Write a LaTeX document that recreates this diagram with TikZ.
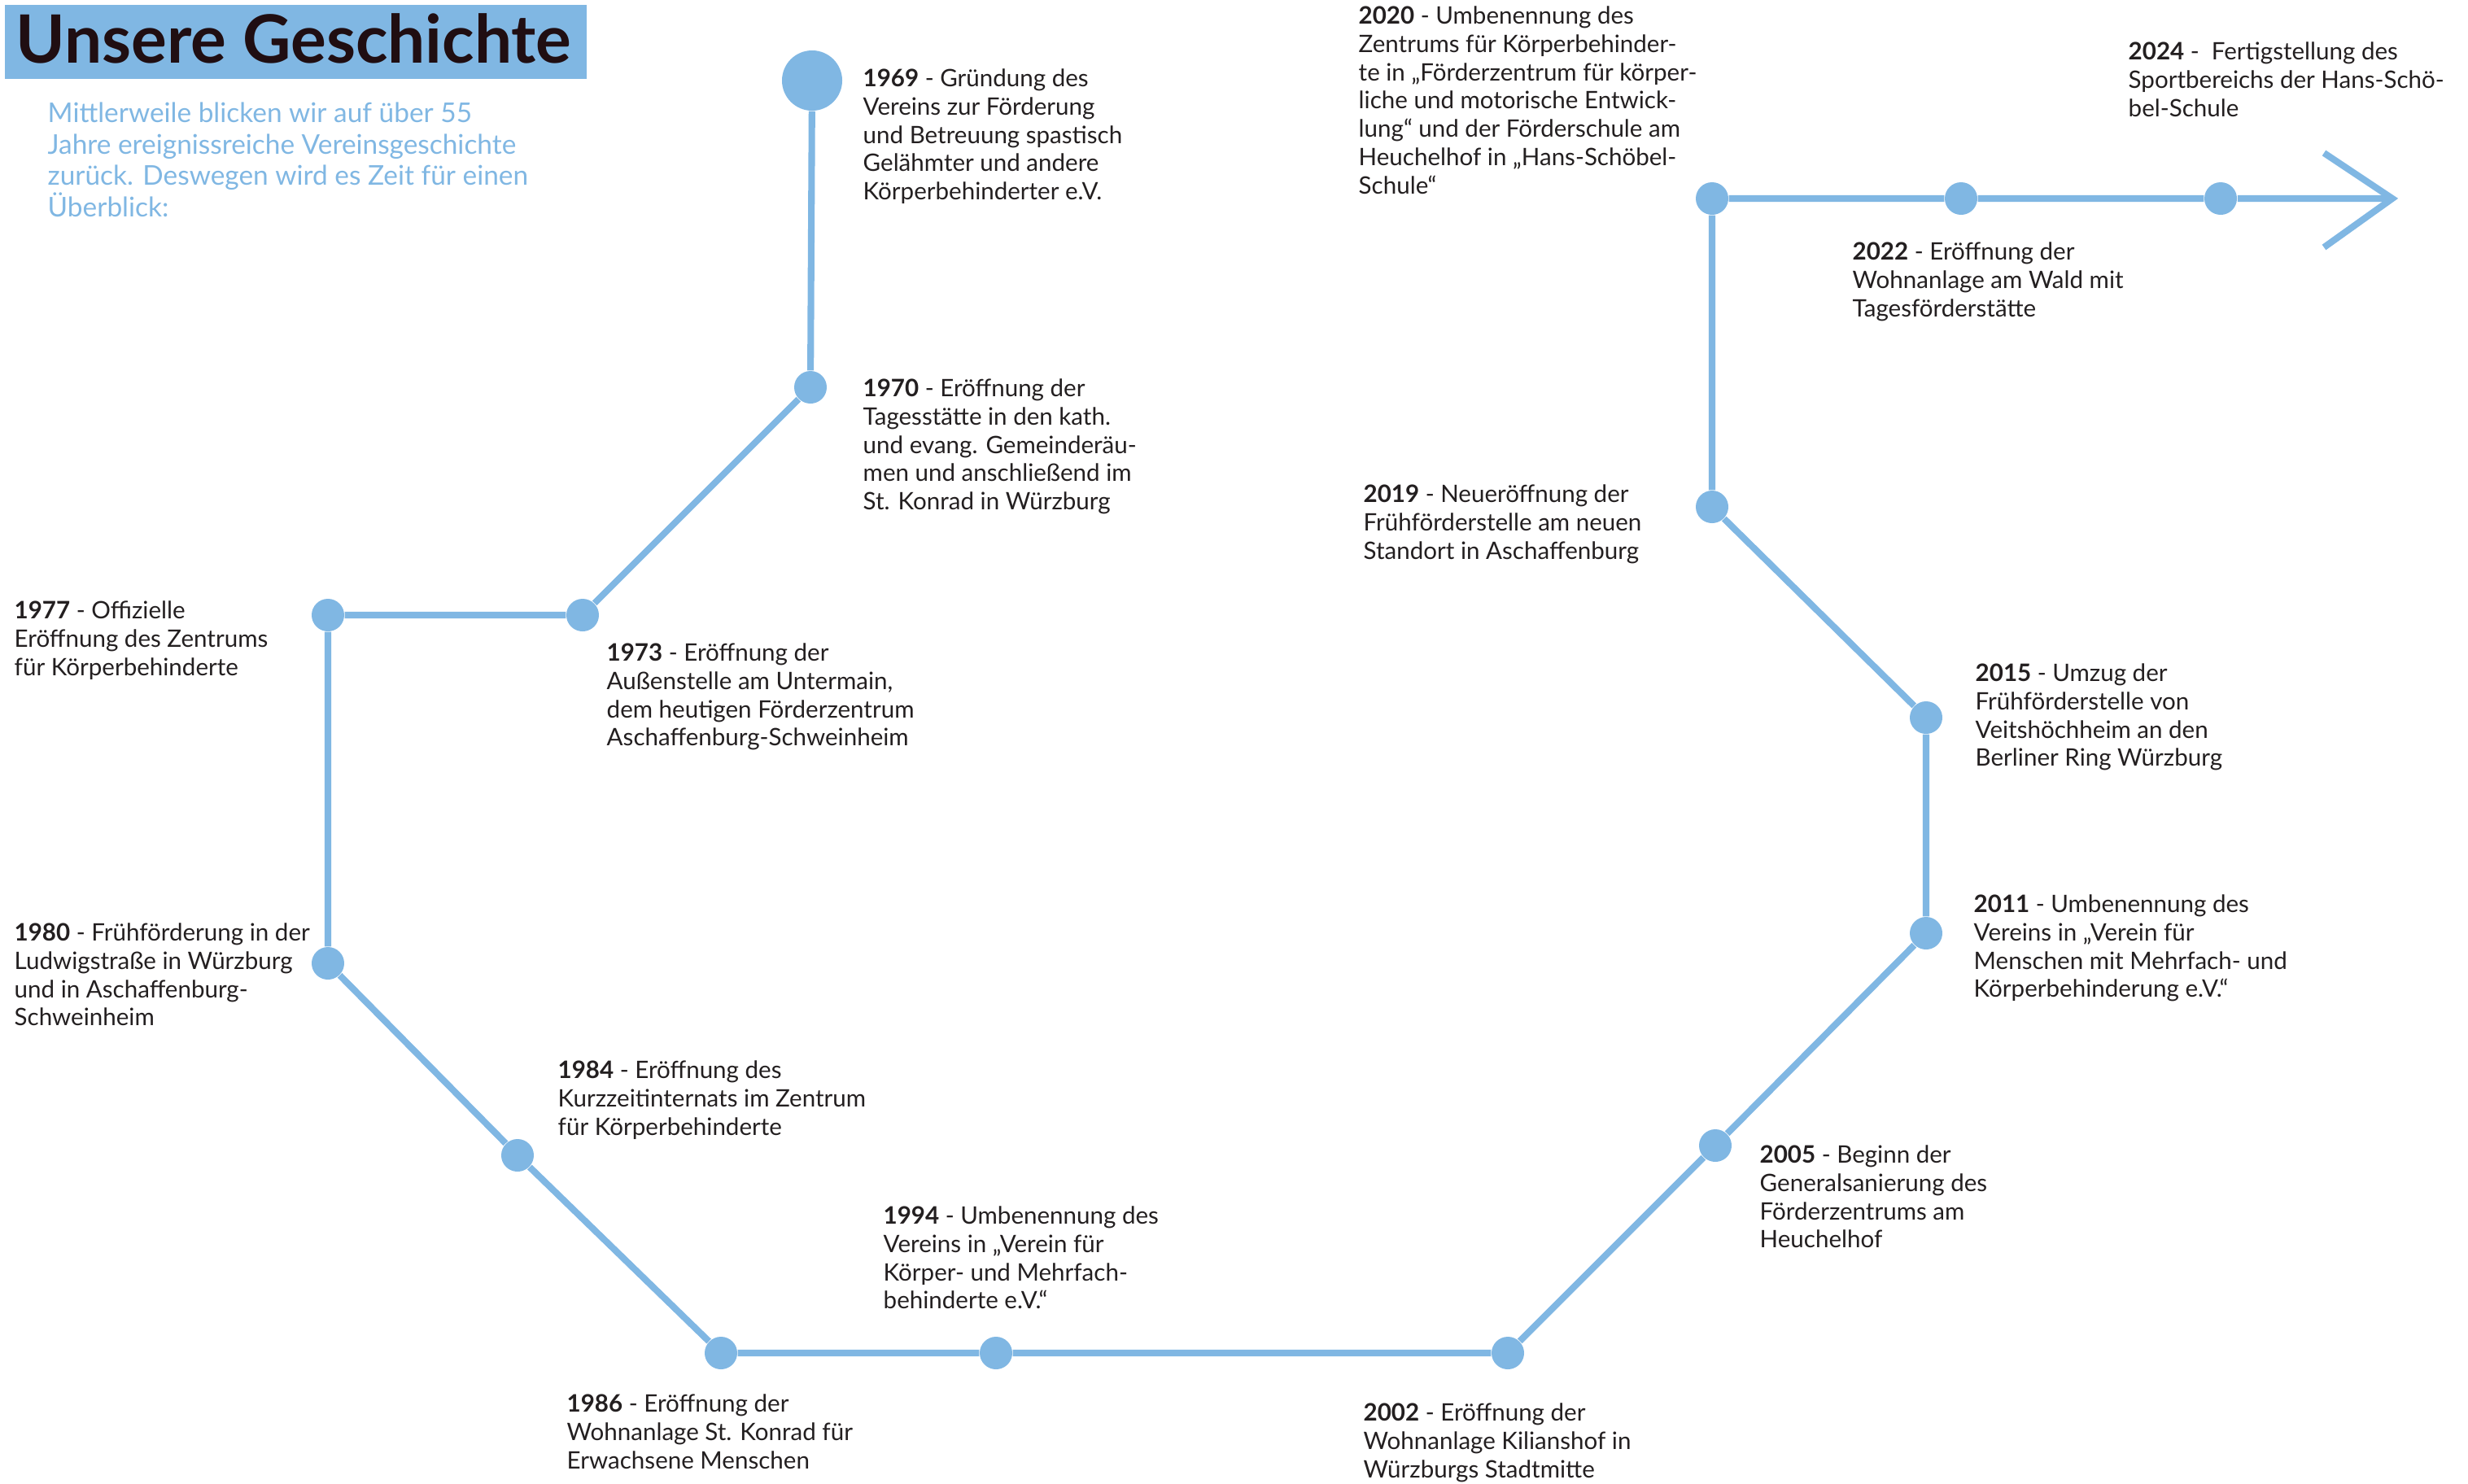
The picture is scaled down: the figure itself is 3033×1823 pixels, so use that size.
\documentclass[tikz,border=0pt]{standalone}
\usepackage{fontspec}
\setmainfont{Lato}
\usepackage{xcolor}
\definecolor{lineblue}{RGB}{128,183,227}
\definecolor{textdark}{RGB}{35,31,32}
\definecolor{titledark}{RGB}{32,14,18}
\tikzset{
  tl/.style={lineblue, line width=2.3pt},
  dot/.style={circle, fill=lineblue, inner sep=0pt, minimum size=0.4cm},
  bigdot/.style={dot, minimum size=0.74cm},
  entry/.style={anchor=north west, inner sep=0pt, align=left, text=textdark,
    font=\fontsize{8.4}{9.9}\selectfont},
}
\newcommand{\yr}[1]{\textbf{#1}}

\begin{document}
\begin{tikzpicture}[x=0.01cm, y=-0.01cm]

  \useasboundingbox (0,0) rectangle (3033,1823);

  % Title
  \fill[lineblue] (6,6) rectangle (721,97);
  \node[anchor=base west, inner sep=0pt, text=titledark,
    font=\fontsize{23.3}{27}\selectfont\bfseries] (title) at (19,77) {Unsere Geschichte};
  \node[anchor=north west, inner sep=0pt, align=left, text=lineblue,
    font=\fontsize{9.5}{11}\selectfont] (intro) at (58,125)
    {Mittlerweile blicken wir auf über 55\\Jahre ereignissreiche Vereinsgeschichte\\zurück. Deswegen wird es Zeit für einen\\Überblick:};

  % Dots
  \node[bigdot] (d1969) at (998,99) {};
  \node[dot] (d1970) at (996,476) {};
  \node[dot] (d1973) at (716,756) {};
  \node[dot] (d1977) at (403,756) {};
  \node[dot] (d1980) at (403,1184) {};
  \node[dot] (d1984) at (636,1420) {};
  \node[dot] (d1986) at (886,1663) {};
  \node[dot] (d1994) at (1224,1663) {};
  \node[dot] (d2002) at (1853,1663) {};
  \node[dot] (d2005) at (2108,1408) {};
  \node[dot] (d2011) at (2367,1147) {};
  \node[dot] (d2015) at (2367,882) {};
  \node[dot] (d2019) at (2104,623) {};
  \node[dot] (d2020) at (2104,244) {};
  \node[dot] (d2022) at (2410,244) {};
  \node[dot] (d2024) at (2729,244) {};
  \coordinate (tip) at (2940,244);
  \coordinate (wingup) at (2856,188);
  \coordinate (wingdown) at (2856,304);

  % Timeline
  \draw[tl] (d1969) -- (d1970) -- (d1973) -- (d1977) -- (d1980) -- (d1984)
    -- (d1986) -- (d1994) -- (d2002) -- (d2005) -- (d2011) -- (d2015)
    -- (d2019) -- (d2020) -- (d2022) -- (d2024) -- (tip);
  \draw[tl] (wingup) -- (tip) -- (wingdown);

  % Entries
  \node[entry] (t1969) at (1060,84) {\yr{1969} - Gründung des\\Vereins zur Förderung\\und Betreuung spastisch\\Gelähmter und andere\\Körperbehinderter e.V.};
  \node[entry] (t1970) at (1060,465) {\yr{1970} - Eröffnung der\\Tagesstätte in den kath.\\und evang. Gemeinderäu-\\men und anschließend im\\St. Konrad in Würzburg};
  \node[entry] (t1973) at (745,790) {\yr{1973} - Eröffnung der\\Außenstelle am Untermain,\\dem heutigen Förderzentrum\\Aschaffenburg-Schweinheim};
  \node[entry] (t1977) at (17,738) {\yr{1977} - Offizielle\\Eröffnung des Zentrums\\für Körperbehinderte};
  \node[entry] (t1980) at (17,1134) {\yr{1980} - Frühförderung in der\\Ludwigstraße in Würzburg\\und in Aschaffenburg-\\Schweinheim};
  \node[entry] (t1984) at (685,1303) {\yr{1984} - Eröffnung des\\Kurzzeitinternats im Zentrum\\für Körperbehinderte};
  \node[entry] (t1986) at (696,1713) {\yr{1986} - Eröffnung der\\Wohnanlage St. Konrad für\\Erwachsene Menschen};
  \node[entry] (t1994) at (1085,1482) {\yr{1994} - Umbenennung des\\Vereins in „Verein für\\Körper- und Mehrfach-\\behinderte e.V.“};
  \node[entry] (t2002) at (1675,1724) {\yr{2002} - Eröffnung der\\Wohnanlage Kilianshof in\\Würzburgs Stadtmitte};
  \node[entry] (t2005) at (2162,1407) {\yr{2005} - Beginn der\\Generalsanierung des\\Förderzentrums am\\Heuchelhof};
  \node[entry] (t2011) at (2425,1099) {\yr{2011} - Umbenennung des\\Vereins in „Verein für\\Menschen mit Mehrfach- und\\Körperbehinderung e.V.“};
  \node[entry] (t2015) at (2427,815) {\yr{2015} - Umzug der\\Frühförderstelle von\\Veitshöchheim an den\\Berliner Ring Würzburg};
  \node[entry] (t2019) at (1675,595) {\yr{2019} - Neueröffnung der\\Frühförderstelle am neuen\\Standort in Aschaffenburg};
  \node[entry] (t2020) at (1669,7) {\yr{2020} - Umbenennung des\\Zentrums für Körperbehinder-\\te in „Förderzentrum für körper-\\liche und motorische Entwick-\\lung“ und der Förderschule am\\Heuchelhof in „Hans-Schöbel-\\Schule“};
  \node[entry] (t2022) at (2276,297) {\yr{2022} - Eröffnung der\\Wohnanlage am Wald mit\\Tagesförderstätte};
  \node[entry] (t2024) at (2615,51) {\yr{2024} -~ Fertigstellung des\\Sportbereichs der Hans-Schö-\\bel-Schule};

\end{tikzpicture}
\end{document}
